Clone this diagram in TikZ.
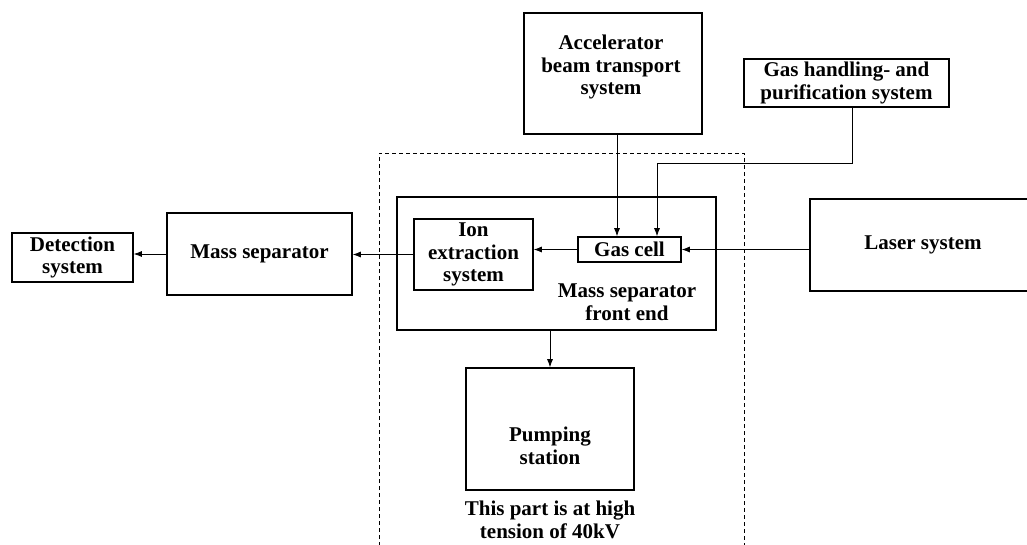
\documentclass[tikz,border=0pt]{standalone}
\usepackage{fontspec}
\setmainfont{Liberation Serif}
\usetikzlibrary{arrows.meta}

\tikzset{
  blk/.style={draw, line width=1.6pt, align=center, inner sep=0pt},
  txt/.style={align=center, inner sep=0pt},
  arr/.style={->, >={Latex[length=8pt,width=6pt]}, line width=0.8pt},
}

\begin{document}
\begin{tikzpicture}[x=1pt, y=-1pt, font=\fontsize{21}{22.5}\selectfont\bfseries]
\useasboundingbox (0,0) rectangle (1027,544);
%% high tension part;
\draw [line width=0.8pt, dash pattern=on 4pt off 3pt] (379,560) |- (744,153) -- (744,560);
%% boxes;
\node [blk, minimum width=121, minimum height=49] (det) at (72.5,257.5) {Detection\\system};
\node [blk, minimum width=185, minimum height=82] (mass) at (259.5,254) {Mass separator};
\node [blk, minimum width=319, minimum height=133] (front) at (556.5,263.5) {};
\node [txt] (fronttext) at (627,302) {Mass separator\\front end};
\node [blk, minimum width=119, minimum height=71] (ion) at (473.5,254.5) {Ion\\extraction\\system};
\node [blk, minimum width=103, minimum height=25] (gas) at (629.5,249.5) {Gas cell};
\node [blk, minimum width=226, minimum height=92] (laser) at (923,245) {Laser system};
\node [blk, minimum width=178, minimum height=121] (acc) at (613,73.5) {};
\node [txt] (acctext) at (611,67) {Accelerator\\beam transport\\system};
\node [blk, minimum width=205, minimum height=48] (gh) at (846.5,83) {Gas handling- and\\purification system};
\node [blk, minimum width=168, minimum height=122] (pump) at (550,429) {};
\node [txt] (pumptext) at (550,446) {Pumping\\station};
\node [txt] (tension) at (550,520) {This part is at high\\tension of 40kV};
%% connections;
\coordinate (bend) at (657,163);
\draw [arr] (mass.west) -- (mass.west -| det.east);
\draw [arr] (ion.west) -- (ion.west -| mass.east);
\draw [arr] (gas.west) -- (gas.west -| ion.east);
\draw [arr] (laser.west |- gas.east) -- (gas.east);
\draw [arr] ([xshift=4pt]acc.south) -- ([xshift=4pt]acc.south |- gas.north);
\draw [arr] ([xshift=5.5pt]gh.south) |- (bend) -- (bend |- gas.north);
\draw [arr] (pump.north |- front.south) -- (pump.north);

\end{tikzpicture}
\end{document}
